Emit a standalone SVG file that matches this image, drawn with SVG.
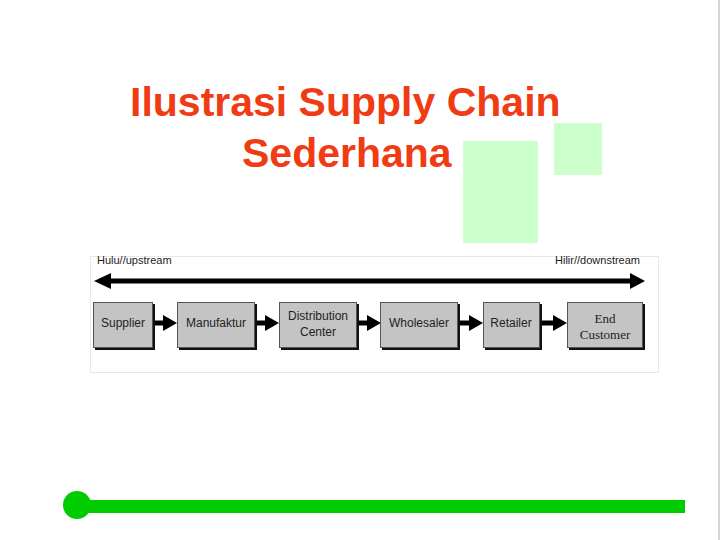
<svg xmlns="http://www.w3.org/2000/svg" width="720" height="540" viewBox="0 0 720 540">
<style>
.title{font-family:"Liberation Sans",Arial,sans-serif;font-weight:bold;font-size:41px;fill:#f03c14}
.lbl{font-family:"Liberation Sans",Arial,sans-serif;font-size:11px;fill:#222}
.bt{font-family:"Liberation Sans",Arial,sans-serif;font-size:12px;fill:#222;text-anchor:middle}
.bts{font-family:"Liberation Serif","Times New Roman",serif;font-size:13px;fill:#222;text-anchor:middle}
.box{fill:#c4c4c4;stroke:#555;stroke-width:1}
.shadow{fill:#111}
.deco{fill:#ccffcc}
.link{stroke:#000;stroke-width:5;fill:none}
.head{fill:#000}
</style>
<rect x="0" y="0" width="720" height="540" fill="#fff"/>
<line x1="719" y1="0" x2="719" y2="540" stroke="#aaa" stroke-width="1"/>
<g id="title">
<text class="title" x="130" y="116">Ilustrasi Supply Chain</text>
<text class="title" x="242" y="167">Sederhana</text>
</g>
<g id="decor">
<rect class="deco" x="463" y="141" width="75" height="102"/>
<rect class="deco" x="554" y="123" width="48" height="52"/>
</g>
<g id="panel">
<rect x="90.5" y="256.5" width="568" height="116" fill="none" stroke="#e8e8e8" stroke-width="1"/>
<text class="lbl" x="97" y="264">Hulu//upstream</text>
<text class="lbl" x="640" y="264" text-anchor="end">Hilir//downstream</text>
</g>
<g id="connectors">
<line class="link" x1="108" y1="281" x2="632" y2="281"/>
<polygon class="head" points="94,281 111,273 111,289"/>
<polygon class="head" points="645,281 630,273 630,289"/>
<line class="link" x1="154" y1="323" x2="165" y2="323"/>
<polygon class="head" points="177,323 163,315 163,331"/>
<line class="link" x1="256" y1="323" x2="267" y2="323"/>
<polygon class="head" points="279,323 265,315 265,331"/>
<line class="link" x1="358" y1="323" x2="369" y2="323"/>
<polygon class="head" points="381,323 367,315 367,331"/>
<line class="link" x1="459" y1="323" x2="471" y2="323"/>
<polygon class="head" points="483,323 469,315 469,331"/>
<line class="link" x1="541" y1="323" x2="555" y2="323"/>
<polygon class="head" points="567,323 553,315 553,331"/>
</g>
<g id="supplier">
<rect class="shadow" x="95" y="304" width="60" height="46"/>
<rect class="box" x="93.5" y="302.5" width="59" height="45"/>
<text class="bt" x="123" y="327">Supplier</text>
</g>
<g id="manufaktur">
<rect class="shadow" x="179" y="304" width="78" height="46"/>
<rect class="box" x="177.5" y="302.5" width="77" height="45"/>
<text class="bt" x="216" y="327">Manufaktur</text>
</g>
<g id="distribution">
<rect class="shadow" x="281" y="304" width="78" height="46"/>
<rect class="box" x="279.5" y="302.5" width="77" height="45"/>
<text class="bt" x="318" y="320">Distribution</text>
<text class="bt" x="318" y="336">Center</text>
</g>
<g id="wholesaler">
<rect class="shadow" x="382" y="304" width="78" height="46"/>
<rect class="box" x="380.5" y="302.5" width="77" height="45"/>
<text class="bt" x="419" y="327">Wholesaler</text>
</g>
<g id="retailer">
<rect class="shadow" x="485" y="304" width="57" height="46"/>
<rect class="box" x="483.5" y="302.5" width="56" height="45"/>
<text class="bt" x="511" y="327">Retailer</text>
</g>
<g id="endcustomer">
<rect class="shadow" x="569" y="304" width="76" height="46"/>
<rect class="box" x="567.5" y="302.5" width="75" height="45"/>
<text class="bts" x="605" y="323">End</text>
<text class="bts" x="605" y="339">Customer</text>
</g>
<g id="footer">
<rect x="77" y="500" width="608" height="13" fill="#00cc00"/>
<circle cx="77" cy="505" r="14" fill="#00cc00"/>
</g>
</svg>
